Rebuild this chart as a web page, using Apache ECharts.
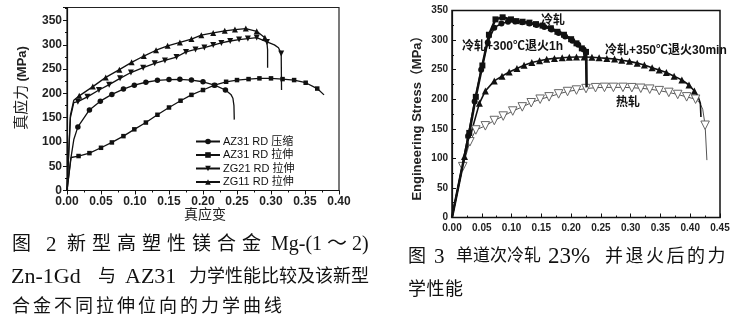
<!DOCTYPE html>
<html>
<head>
<meta charset="utf-8">
<script src="https://cdn.jsdelivr.net/npm/echarts@6/dist/echarts.min.js"></script>
<style>
  html, body { margin: 0; padding: 0; background: #fff; }
  #chart { width: 745px; height: 323px; }
</style>
</head>
<body>
<div id="chart"></div>
<script>
// ---------- Fig. 2: true stress / true strain ----------
// each curve is a list of [strain, stress]; *NoMark lists the points drawn without a marker
const az31Compress = [[0,0],[0.005,60],[0.010,105],[0.016,131],[0.033,166],[0.049,184],[0.066,198],[0.083,209],[0.099,217],[0.116,223],[0.133,227],[0.150,228.5],[0.166,229],[0.183,227.5],[0.200,224],[0.217,217],[0.233,207],[0.241,198],[0.244,190],[0.2455,175],[0.246,146]];
const az31CompressNoMark = [0,1,2,17,18,19,20];
const az31Tension = [[0,0],[0.006,68],[0.017,71],[0.033,77],[0.050,88],[0.066,99],[0.083,112],[0.099,126],[0.116,140],[0.133,156],[0.150,171],[0.167,185],[0.183,197],[0.200,207],[0.217,217],[0.234,224],[0.250,227.5],[0.267,229.5],[0.283,231],[0.300,231],[0.317,229.5],[0.334,227.5],[0.351,222],[0.368,210],[0.378,197]];
const az31TensionNoMark = [0,1,24];
const zg21Tension = [[0,0],[0.005,150],[0.010,181],[0.016,183],[0.030,193],[0.047,207],[0.062,218],[0.078,231],[0.094,243],[0.112,253],[0.129,262],[0.144,268],[0.161,275],[0.175,285.5],[0.189,290.5],[0.202,294.5],[0.215,299.5],[0.227,304],[0.240,308],[0.253,311],[0.266,313],[0.279,315],[0.294,306],[0.305,300],[0.311,294],[0.315,282],[0.3155,207]];
const zg21TensionNoMark = [0,1,2,23,24,26];
const zg11Tension = [[0,0],[0.005,155],[0.010,186],[0.018,195],[0.038,214],[0.057,233],[0.077,249],[0.095,264],[0.113,277],[0.131,289],[0.148,298],[0.166,305],[0.183,312],[0.1975,320],[0.215,324.5],[0.232,329],[0.247,331.5],[0.263,333.5],[0.279,328],[0.291,314.5],[0.294,305],[0.295,290],[0.295,253]];
const zg11TensionNoMark = [0,1,2,20,21,22];
const fig2Names = ['AZ31 RD 压缩', 'AZ31 RD 拉伸', 'ZG21 RD 拉伸', 'ZG11 RD 拉伸'];

// ---------- Fig. 3: engineering stress / strain ----------
const coldRolled = [[0,0],[0.029,143],[0.040,204],[0.051,257],[0.062,309],[0.073,335],[0.085,338.5],[0.099,335],[0.108,332],[0.1185,331],[0.130,329.5],[0.141,327],[0.152,324.5],[0.166,320],[0.177,314],[0.188,309],[0.200,301.5],[0.209,294.5],[0.218,286],[0.225,280],[0.226,220]];
const coldRolledNoMark = [0,20];
const anneal300 = [[0,0],[0.027,138],[0.038,196],[0.049,250],[0.060,296],[0.071,321],[0.083,328],[0.094,331],[0.106,331.5],[0.118,330],[0.130,328],[0.142,325.5],[0.155,322],[0.167,318],[0.179,312],[0.190,306],[0.202,299],[0.212,292],[0.221,284],[0.226,279],[0.226,220]];
const anneal300NoMark = [0,19,20];
const anneal350 = [[0,0],[0.021,103],[0.046,193],[0.056,214],[0.071,231],[0.084,239],[0.096,246],[0.109,252],[0.121,257.5],[0.134,262],[0.147,265],[0.159,267.5],[0.172,269],[0.185,270],[0.197,271],[0.209,271.5],[0.222,271.5],[0.235,271],[0.247,270],[0.260,269],[0.273,268],[0.285,266],[0.298,264],[0.311,261],[0.323,258],[0.336,253],[0.348,249.5],[0.360,245],[0.373,239],[0.386,232.5],[0.398,224],[0.407,214],[0.413,205],[0.417,193],[0.418,170]];
const anneal350NoMark = [0,32,33,34];
const hotRolled = [[0,0],[0.018,86],[0.030,128],[0.040,148],[0.056,155],[0.071,164],[0.086,171.5],[0.102,180],[0.118,187],[0.133,194],[0.148,200],[0.163,204],[0.179,209],[0.194,213],[0.209,215.5],[0.225,218],[0.241,219.5],[0.256,220],[0.271,220],[0.287,220],[0.302,219.5],[0.317,218.5],[0.332,217],[0.348,214.5],[0.364,211.5],[0.379,208],[0.394,204],[0.409,200],[0.416,194],[0.421,183],[0.425,156],[0.428,97]];
const hotRolledNoMark = [0,28,29,31];
const fig3Names = ['冷轧', '冷轧+300℃退火1h', '冷轧+350℃退火30min', '热轧'];

// ---------- captions ----------
const cap2Line1 = ['图', '2', '新型高塑性镁合金', 'Mg-(1 ～ 2)'];
const cap2Line2 = ['Zn-1Gd', '与', 'AZ31', '力学性能比较及该新型'];
const cap2Line3 = ['合金不同拉伸位向的力学曲线'];
const cap3Line1 = ['图', '3', '单道次冷轧', '23%', '并退火后的力'];
const cap3Line2 = ['学性能'];

const SERIF = '"Liberation Serif", "Noto Sans CJK SC", serif';
const SANS = 'Arial, "Liberation Sans", "Noto Sans CJK SC", sans-serif';

function withMarks(curve, noMark) {
  return curve.map((p, i) => noMark.includes(i) ? { value: p, symbol: 'none' } : p);
}

function curveSeries(name, curve, noMark, axis, look) {
  return {
    type: 'line', name: name, xAxisIndex: axis, yAxisIndex: axis,
    data: withMarks(curve, noMark),
    symbol: look.symbol, symbolSize: look.size, symbolRotate: look.rotate || 0,
    showSymbol: true, showAllSymbol: true, silent: true,
    lineStyle: { color: look.line || '#111', width: look.width || 1.2 },
    itemStyle: { color: look.fill || '#111', borderColor: look.border || look.fill || '#111', borderWidth: look.borderWidth || 0 },
    emphasis: { disabled: true }, z: look.z || 2
  };
}

// place a run of characters at a fixed pitch (or a single run when pitch is 0)
function textRun(str, x, y, size, pitch, font) {
  if (!pitch) {
    return [{ type: 'text', x: x, y: y, silent: true,
      style: { text: str, fontSize: size, fontFamily: font, fill: '#111', align: 'left', verticalAlign: 'middle' } }];
  }
  return Array.from(str).map((ch, i) => ({ type: 'text', x: x + i * pitch, y: y, silent: true,
    style: { text: ch, fontSize: size, fontFamily: font, fill: '#111', align: 'left', verticalAlign: 'middle' } }));
}

const captions = [].concat(
  textRun(cap2Line1[0], 12, 245, 19, 0, SERIF),
  textRun(cap2Line1[1], 46, 245, 21, 0, SERIF),
  textRun(cap2Line1[2], 67, 245, 19, 25, SERIF),
  textRun(cap2Line1[3], 271, 245, 20, 0, SERIF),
  textRun(cap2Line2[0], 11, 277, 22, 0, SERIF),
  textRun(cap2Line2[1], 98, 277, 18, 0, SERIF),
  textRun(cap2Line2[2], 125, 277, 22, 0, SERIF),
  textRun(cap2Line2[3], 189, 277, 18, 18, SERIF),
  textRun(cap2Line3[0], 12, 307, 18, 21, SERIF),
  textRun(cap3Line1[0], 408, 257, 18, 0, SERIF),
  textRun(cap3Line1[1], 434, 257, 21, 0, SERIF),
  textRun(cap3Line1[2], 456, 257, 17, 17, SERIF),
  textRun(cap3Line1[3], 548, 257, 23, 0, SERIF),
  textRun(cap3Line1[4], 605, 257, 18, 20.5, SERIF),
  textRun(cap3Line2[0], 408, 290, 18, 18.5, SERIF)
);

const overlayText = [
  // Fig. 2 axis titles
  { type: 'text', x: 22, y: 88, rotation: Math.PI / 2, silent: true,
    style: { text: '{a|真应力} {b|(MPa)}', align: 'center', verticalAlign: 'middle',
      rich: { a: { fontSize: 15, fontFamily: SERIF, fill: '#222' }, b: { fontSize: 13, fontWeight: 'bold', fontFamily: SANS, fill: '#222' } } } },
  { type: 'text', x: 205, y: 215, silent: true,
    style: { text: '真应变', fontSize: 14, fontFamily: SERIF, fill: '#222', align: 'center', verticalAlign: 'middle' } },
  // Fig. 3 axis title
  { type: 'text', x: 417, y: 115, rotation: Math.PI / 2, silent: true,
    style: { text: 'Engineering Stress（MPa）', fontSize: 13, fontWeight: 'bold', fontFamily: SANS, fill: '#222', align: 'center', verticalAlign: 'middle' } },
  // Fig. 3 curve labels
  { type: 'text', x: 553, y: 21, silent: true,
    style: { text: fig3Names[0], fontSize: 12, fontWeight: 'bold', fontFamily: SANS, fill: '#111', align: 'center', verticalAlign: 'middle' } },
  { type: 'text', x: 462, y: 46.5, silent: true,
    style: { text: fig3Names[1], fontSize: 12, fontWeight: 'bold', fontFamily: SANS, fill: '#111', align: 'left', verticalAlign: 'middle' } },
  { type: 'text', x: 605, y: 51, silent: true,
    style: { text: fig3Names[2], fontSize: 12, fontWeight: 'bold', fontFamily: SANS, fill: '#111', align: 'left', verticalAlign: 'middle' } },
  { type: 'text', x: 628, y: 103, silent: true,
    style: { text: fig3Names[3], fontSize: 12, fontWeight: 'bold', fontFamily: SANS, fill: '#111', align: 'center', verticalAlign: 'middle' } }
];

const chart = echarts.init(document.getElementById('chart'), null, { renderer: 'canvas' });

function valueAxis(grid, min, max, interval, inside, labelOpts) {
  return {
    type: 'value', gridIndex: grid, min: min, max: max, interval: interval,
    axisLine: { show: true, onZero: false, lineStyle: { color: '#111', width: 1.2 } },
    axisTick: { show: true, inside: inside, length: 4, lineStyle: { color: '#111', width: 1 } },
    minorTick: { show: true, splitNumber: 2, length: 2, lineStyle: { color: '#111', width: 1 } },
    splitLine: { show: false },
    axisLabel: Object.assign({ fontWeight: 'bold', fontFamily: SANS, color: '#222' }, labelOpts)
  };
}

const fixed2 = v => v.toFixed(2);

chart.setOption({
  animation: false,
  backgroundColor: '#fff',
  grid: [
    { left: 67, top: 7.5, width: 272, height: 183, show: true, borderColor: '#222', borderWidth: 1.2, backgroundColor: 'transparent' },
    { left: 452, top: 10.5, width: 268, height: 207, show: true, borderColor: '#111', borderWidth: 1.5, backgroundColor: 'transparent' }
  ],
  xAxis: [
    valueAxis(0, 0, 0.4, 0.05, false, { fontSize: 12, margin: 5, formatter: fixed2 }),
    valueAxis(1, 0, 0.45, 0.05, true, { fontSize: 10, margin: 6, formatter: fixed2 })
  ],
  yAxis: [
    valueAxis(0, 0, 377, 50, false, { fontSize: 12, margin: 5, showMaxLabel: false }),
    valueAxis(1, 0, 350, 50, true, { fontSize: 10, margin: 4 })
  ],
  legend: {
    data: fig2Names, orient: 'vertical', left: 190, top: 131,
    itemWidth: 24, itemHeight: 7, itemGap: 2.5,
    textStyle: { fontSize: 11, fontFamily: SANS, color: '#111', lineHeight: 11, padding: [0, 0, 0, -2] },
    selectedMode: false, inactiveColor: '#111'
  },
  graphic: overlayText.concat(captions),
  series: [
    curveSeries(fig2Names[0], az31Compress, az31CompressNoMark, 0, { symbol: 'circle', size: 5.5, width: 1.3 }),
    curveSeries(fig2Names[1], az31Tension, az31TensionNoMark, 0, { symbol: 'rect', size: 4.5, width: 1.3 }),
    curveSeries(fig2Names[2], zg21Tension, zg21TensionNoMark, 0, { symbol: 'triangle', size: 6, rotate: 180, width: 1.3 }),
    curveSeries(fig2Names[3], zg11Tension, zg11TensionNoMark, 0, { symbol: 'triangle', size: 6, width: 1.3 }),
    curveSeries(fig3Names[3], hotRolled, hotRolledNoMark, 1, { symbol: 'triangle', size: 8.5, rotate: 180, line: '#555', width: 1, fill: '#fff', border: '#666', borderWidth: 1 }),
    curveSeries(fig3Names[2], anneal350, anneal350NoMark, 1, { symbol: 'triangle', size: 7, width: 1.6 }),
    curveSeries(fig3Names[1], anneal300, anneal300NoMark, 1, { symbol: 'circle', size: 6, width: 1.5 }),
    curveSeries(fig3Names[0], coldRolled, coldRolledNoMark, 1, { symbol: 'rect', size: 6, width: 2.5, z: 3 })
  ]
});
</script>
</body>
</html>
